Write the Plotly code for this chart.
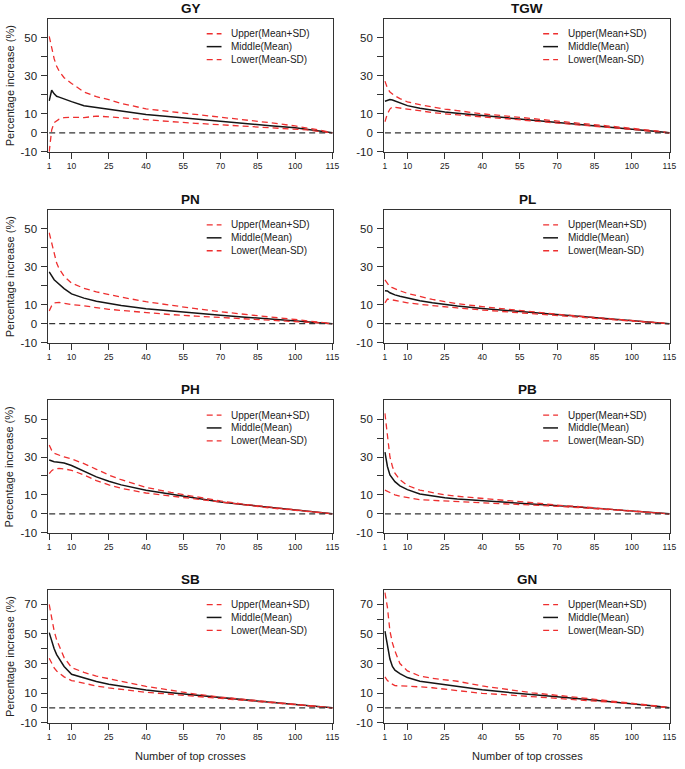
import plotly.graph_objects as go
from plotly.subplots import make_subplots

# // data
crosses = [1, 2, 3, 4, 5, 7, 10, 15, 20, 25, 30, 40, 50, 60, 70, 80, 90, 100, 105, 110, 115]
traits = ["GY", "TGW", "PN", "PL", "PH", "PB", "SB", "GN"]

gy_upper = [50.8, 44, 39, 35, 32.5, 29, 26, 21.5, 19, 17.5, 15.5, 12.6, 11.2, 9.8, 8.2, 6.8, 5.3, 3.6, 2.6, 1.4, 0]
gy_mid = [16.8, 22.4, 20.5, 19.2, 18.8, 17.8, 16.4, 14.3, 13.3, 12.3, 11.3, 9.6, 8.5, 7.3, 5.9, 4.8, 3.7, 2.7, 1.9, 1.0, 0]
gy_lower = [-10, 1.5, 5.4, 6.5, 7.2, 8.0, 8.2, 8.0, 8.8, 8.4, 7.9, 6.6, 5.9, 5.0, 4.3, 3.6, 2.9, 2.2, 1.5, 0.7, 0]

tgw_upper = [27.2, 23.5, 21.5, 20.5, 19.5, 18, 16.3, 14.8, 13.6, 12.5, 11.7, 10, 8.8, 7.4, 6.1, 4.9, 3.7, 2.5, 1.8, 1.0, 0]
tgw_mid = [16.6, 17.2, 17.5, 17.3, 16.8, 15.6, 14.3, 12.9, 11.8, 11.0, 10.3, 9.1, 7.9, 6.7, 5.6, 4.5, 3.3, 2.2, 1.5, 0.7, 0]
tgw_lower = [5.8, 10, 12.5, 13.6, 13.4, 13, 12.4, 11.5, 10.7, 10.0, 9.4, 8.4, 7.4, 6.3, 5.3, 4.2, 3.1, 2.0, 1.2, 0.4, 0]

pn_upper = [48, 43, 37, 32, 29, 25, 21.4, 18.7, 16.8, 15.3, 14.0, 11.6, 9.6, 7.9, 6.3, 4.8, 3.5, 2.2, 1.5, 0.8, 0]
pn_mid = [27.4, 25, 23.2, 22, 20.8, 18.5, 15.7, 13.5, 11.8, 10.6, 9.6, 7.9, 6.6, 5.5, 4.4, 3.4, 2.4, 1.5, 1.0, 0.5, 0]
pn_lower = [6.7, 9.5, 11.0, 11.2, 11.2, 10.8, 10.1, 9.4, 8.3, 7.6, 7.0, 5.8, 4.8, 4.0, 3.2, 2.6, 1.8, 1.0, 0.6, 0.3, 0]

pl_upper = [23.1, 21, 19.5, 19, 18.4, 17.4, 16, 14.2, 12.8, 11.6, 10.6, 9, 7.6, 6.3, 5.0, 3.9, 2.8, 1.8, 1.2, 0.6, 0]
pl_mid = [17.4, 17.3, 16.3, 15.6, 15.2, 14.5, 13.5, 12.1, 11.0, 10.0, 9.3, 8.0, 6.9, 5.7, 4.6, 3.5, 2.5, 1.6, 1.1, 0.5, 0]
pl_lower = [11, 13, 12.8, 12.5, 12.2, 11.7, 11, 10.2, 9.5, 8.9, 8.3, 7.2, 6.3, 5.3, 4.3, 3.3, 2.3, 1.4, 0.9, 0.4, 0]

ph_upper = [36.3, 33.5, 32, 31.5, 31, 30, 29, 26.5, 23.5, 20.5, 18, 14, 11.3, 9.0, 6.8, 5.0, 3.5, 2.2, 1.5, 0.8, 0]
ph_mid = [28.4, 27.8, 27.5, 27.4, 27.3, 26.8, 25.5, 22.5, 19.5, 17.2, 15.3, 12.5, 10.4, 8.3, 6.3, 4.8, 3.3, 2.0, 1.4, 0.7, 0]
ph_lower = [21.2, 22.8, 23.6, 24, 24, 23.7, 23, 20.5, 17.5, 15.3, 13.5, 11, 9.4, 7.7, 5.9, 4.5, 3.1, 1.9, 1.3, 0.6, 0]

pb_upper = [53, 40, 30, 25, 21.5, 18, 15, 12.5, 11.2, 10, 9.3, 8, 7, 5.9, 4.6, 3.7, 2.7, 1.8, 1.2, 0.6, 0]
pb_mid = [32.6, 25, 20.5, 18.5, 17, 14.8, 12.8, 10.5, 9.3, 8.5, 7.8, 7.0, 6.1, 5.1, 4.3, 3.5, 2.5, 1.6, 1.0, 0.5, 0]
pb_lower = [12.5, 11.8, 11, 10.5, 10, 9.3, 8.5, 7.5, 7.1, 6.8, 6.5, 6, 5.5, 4.8, 4.0, 3.2, 2.3, 1.4, 0.8, 0.3, 0]

sb_upper = [70, 60, 52, 46, 42, 34, 27.3, 24, 21.5, 19.5, 18, 14.5, 11.8, 9.3, 7.3, 5.6, 4.0, 2.4, 1.6, 0.8, 0]
sb_mid = [50.9, 45, 40, 36, 33, 28, 22.7, 20, 17.8, 16, 14.7, 12, 10.2, 8.5, 7, 5.4, 3.8, 2.3, 1.5, 0.7, 0]
sb_lower = [33.6, 30, 27, 25, 23.5, 21, 18.5, 16.5, 14.8, 13.5, 12.5, 10.5, 9.2, 7.8, 6.5, 5.0, 3.5, 2.0, 1.2, 0.4, 0]

gn_upper = [78, 68, 52, 44, 38.5, 30, 25, 21.5, 20, 19, 18, 14.8, 12.5, 10.2, 8.5, 6.8, 5.2, 3.5, 2.5, 1.3, 0]
gn_mid = [52, 42, 33, 28, 25.5, 23.2, 20.5, 18, 16.8, 16, 14.8, 12.3, 10.5, 8.8, 7.5, 6.0, 4.5, 3.0, 2.1, 1.1, 0]
gn_lower = [21, 18.5, 17, 15.8, 15, 14.9, 14.8, 14.2, 13.6, 12.7, 11.9, 9.8, 8.8, 7.6, 6.7, 5.5, 4.2, 2.8, 1.9, 0.9, 0]

series = {
    "GY": (gy_upper, gy_mid, gy_lower),
    "TGW": (tgw_upper, tgw_mid, tgw_lower),
    "PN": (pn_upper, pn_mid, pn_lower),
    "PL": (pl_upper, pl_mid, pl_lower),
    "PH": (ph_upper, ph_mid, ph_lower),
    "PB": (pb_upper, pb_mid, pb_lower),
    "SB": (sb_upper, sb_mid, sb_lower),
    "GN": (gn_upper, gn_mid, gn_lower),
}

x_ticks = [1, 10, 25, 40, 55, 70, 85, 100, 115]
legend_labels = ["Upper(Mean+SD)", "Middle(Mean)", "Lower(Mean-SD)"]

# // style
W, H = 685, 769
red = "#ee2f2f"
black = "#151515"
axis_col = "#333333"
font_fam = "Liberation Sans, Arial, sans-serif"
dash = "6px,4px"

col_px = [(47, 335), (386.7, 676)]
row_px = [(19, 153), (211.7, 345.3), (403.3, 537), (594.3, 728.3)]

fig = make_subplots(rows=4, cols=2)

for k, trait in enumerate(traits):
    r, c = k // 2 + 1, k % 2 + 1
    upper, mid, lower = series[trait]
    fig.add_trace(go.Scatter(x=crosses, y=mid, mode="lines",
                             line=dict(color=black, width=1.5),
                             showlegend=False, name=legend_labels[1]), row=r, col=c)
    fig.add_trace(go.Scatter(x=crosses, y=upper, mode="lines",
                             line=dict(color=red, width=1.3, dash=dash),
                             showlegend=False, name=legend_labels[0]), row=r, col=c)
    fig.add_trace(go.Scatter(x=crosses, y=lower, mode="lines",
                             line=dict(color=red, width=1.3, dash=dash),
                             showlegend=False, name=legend_labels[2]), row=r, col=c)

    i = k + 1
    sfx = "" if i == 1 else str(i)
    x0, x1 = col_px[c - 1]
    t, b = row_px[r - 1]

    ymax = 80 if r == 4 else 60
    yvals = list(range(-10, ymax, 10))
    ytext = [str(v) if v in (-10, 0, 10, 30, 50, 70) else "" for v in yvals]

    fig.update_xaxes(
        domain=[x0 / W, x1 / W], range=[0.7, 115.3],
        tickmode="array", tickvals=x_ticks, ticktext=[str(v) for v in x_ticks],
        ticks="outside", ticklen=6, tickwidth=1, tickcolor=axis_col,
        tickfont=dict(size=8.5, color="#222", family=font_fam),
        ticklabeloverflow="allow",
        showline=True, linecolor=axis_col, linewidth=1, mirror=True,
        showgrid=False, zeroline=False, row=r, col=c)
    fig.update_yaxes(
        domain=[1 - b / H, 1 - t / H], range=[-10, ymax],
        tickmode="array", tickvals=yvals, ticktext=ytext,
        ticks="outside", ticklen=6, tickwidth=1, tickcolor=axis_col,
        tickfont=dict(size=11.5, color="#222", family=font_fam),
        ticklabelstandoff=2,
        showline=True, linecolor=axis_col, linewidth=1, mirror=True,
        showgrid=False, zeroline=False, row=r, col=c)

    # // zero reference line
    fig.add_shape(type="line", xref=f"x{sfx}", yref=f"y{sfx}",
                  x0=crosses[0], x1=crosses[-1], y0=0, y1=0,
                  line=dict(color=axis_col, width=1.2, dash=dash))

    # // panel title
    fig.add_annotation(text=f"<b>{trait}</b>", xref=f"x{sfx} domain", yref=f"y{sfx} domain",
                       x=0.5, y=1, xanchor="center", yanchor="bottom", yshift=1,
                       showarrow=False, font=dict(size=13.5, color="#111", family=font_fam))

    # // legend (drawn by hand to match the short line samples)
    ph = b - t
    for j, lab in enumerate(legend_labels):
        ly = 1 - (15 + 13 * j) / ph
        if j == 1:
            ln = dict(color=black, width=1.5)
        else:
            ln = dict(color=red, width=1.3, dash=dash)
        fig.add_shape(type="line", xref=f"x{sfx} domain", yref=f"y{sfx} domain",
                      x0=0.556, x1=0.608, y0=ly, y1=ly, line=ln)
        fig.add_annotation(text=lab, xref=f"x{sfx} domain", yref=f"y{sfx} domain",
                           x=0.635, y=ly, xanchor="left", yanchor="middle",
                           showarrow=False, font=dict(size=10, color="#222", family=font_fam))

    # // axis titles
    if c == 1:
        fig.add_annotation(text="Percentage increase (%)", xref="paper", yref=f"y{sfx} domain",
                           x=8 / W, y=0.5, xanchor="center", yanchor="middle", textangle=-90,
                           showarrow=False, font=dict(size=11, color="#222", family=font_fam))
    if r == 4:
        fig.add_annotation(text="Number of top crosses", xref=f"x{sfx} domain", yref="paper",
                           x=0.5, y=1 - 762 / H, xanchor="center", yanchor="middle",
                           showarrow=False, font=dict(size=11, color="#222", family=font_fam))

fig.update_layout(
    width=W, height=H,
    margin=dict(l=0, r=0, t=0, b=0),
    plot_bgcolor="white", paper_bgcolor="white",
    showlegend=False,
    font=dict(family=font_fam))

# // drop the default body margin so the figure sits at the page origin
fig.write_html("out.html", config={"displayModeBar": False},
               post_script="document.body.style.margin='0';")
